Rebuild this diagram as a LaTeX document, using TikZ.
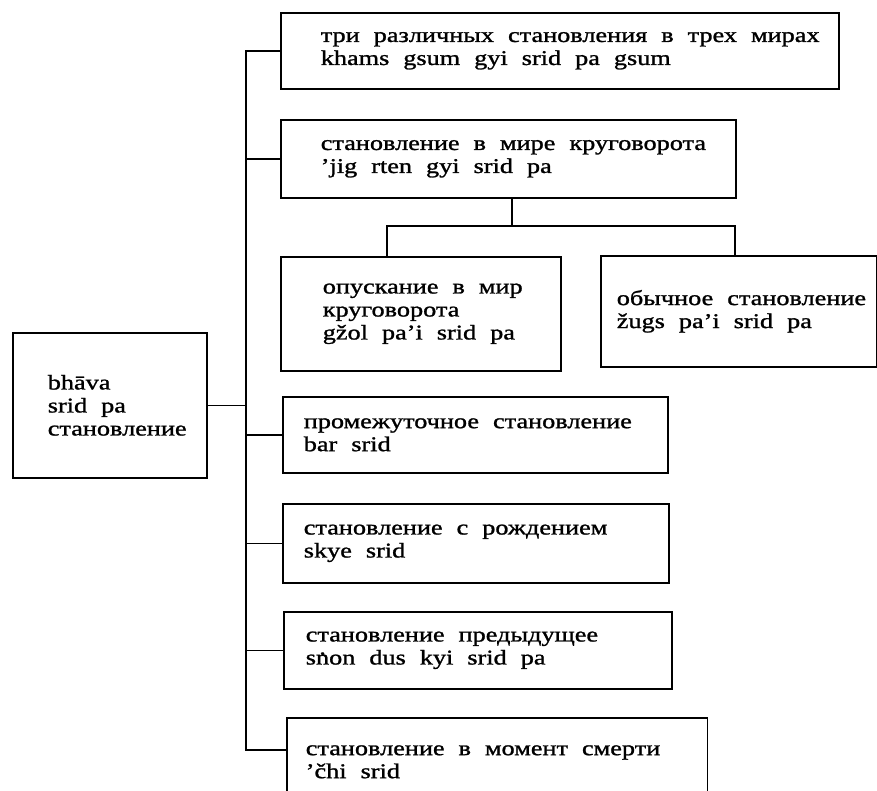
\documentclass[tikz,border=0pt]{standalone}
\usepackage{fontspec}
\setmainfont{Liberation Serif}[FakeStretch=1.25,FakeBold=1.2]
\usetikzlibrary{calc}
\newcommand\Ndot{\hbox{\ooalign{n\cr\hidewidth\raisebox{0.47em}{.}\hidewidth\cr}}}
\newcommand\Wsp{\spaceskip=14pt plus 2pt\relax}
\newcommand\Ln[1]{\leavevmode\hbox{\Wsp #1}}
\begin{document}
\begin{tikzpicture}[x=1pt,y=-1pt,
  txt/.style={font=\fontsize{21}{23}\selectfont},
  bx/.style={draw, line width=1.6pt, anchor=north west, rectangle, txt,
     align=left, inner ysep=0pt},
  ln/.style={line width=1.6pt}]
\useasboundingbox[fill=white] (0,0) rectangle (877,790);
% root
\node[bx, minimum width=194pt, minimum height=145pt, inner xsep=35pt, text width=124pt] (root) at (12,332)
  {\Ln{bhāva}\\\Ln{srid pa}\\\Ln{становление}};
% boxes
\node[bx, minimum width=558pt, minimum height=76pt, inner xsep=40pt, text width=478pt] (b1) at (280,12)
  {\Ln{три различных становления в трех мирах}\\\Ln{khams gsum gyi srid pa gsum}};
\node[bx, minimum width=455pt, minimum height=78pt, inner xsep=40pt, text width=375pt] (b2) at (280,119)
  {\Ln{становление в мире круговорота}\\\Ln{'jig rten gyi srid pa}};
\node[bx, minimum width=280pt, minimum height=114pt, inner xsep=42pt, text width=196pt] (b3) at (280,256)
  {\Ln{опускание в мир}\\\Ln{круговорота}\\\Ln{gžol pa'i srid pa}};
\node[bx, minimum width=276pt, minimum height=111pt, inner xsep=16pt, text width=244pt] (b4) at (600,255)
  {\Ln{обычное становление}\\\Ln{žugs pa'i srid pa}};
\node[bx, minimum width=385pt, minimum height=76pt, inner xsep=21pt, text width=343pt] (b5) at (282,396)
  {\Ln{промежуточное становление}\\\Ln{bar srid}};
\node[bx, minimum width=386pt, minimum height=79pt, inner xsep=21pt, text width=344pt] (b6) at (282,503)
  {\Ln{становление с рождением}\\\Ln{skye srid}};
\node[bx, minimum width=388pt, minimum height=77pt, inner xsep=22pt, text width=344pt] (b7) at (283,611)
  {\Ln{становление предыдущее}\\\Ln{s\Ndot on dus kyi srid pa}};
\node[bx, draw=none, minimum width=419pt, minimum height=86pt, inner xsep=18pt, text width=383pt] (b8) at (287,718)
  {\Ln{становление в момент смерти}\\\Ln{'čhi srid}};
\draw[ln] (b8.south west) -- (b8.north west) -- (b8.north east) -- (b8.south east);
% trunk
\coordinate (tk) at (246,0);
\coordinate (c8) at (287,750);
\draw[ln] (b1.west) -| (tk |- c8) -- (c8);
\draw[ln] (b2.west) -- (b2.west -| tk);
\draw[ln] (b5.west) -- (b5.west -| tk);
\draw[ln] (b6.west) -- (b6.west -| tk);
\draw[ln] (b7.west) -- (b7.west -| tk);
\draw[ln] (root.east) -- (root.east -| tk);
% sub branch
\coordinate (sj) at (512,226);
\coordinate (dl) at (387,226);
\coordinate (dr) at (735,226);
\draw[ln] (sj |- b2.south) -- (sj);
\draw[ln] (dl |- b3.north) -- (dl) -- (dr) -- (dr |- b4.north);
\end{tikzpicture}
\end{document}
